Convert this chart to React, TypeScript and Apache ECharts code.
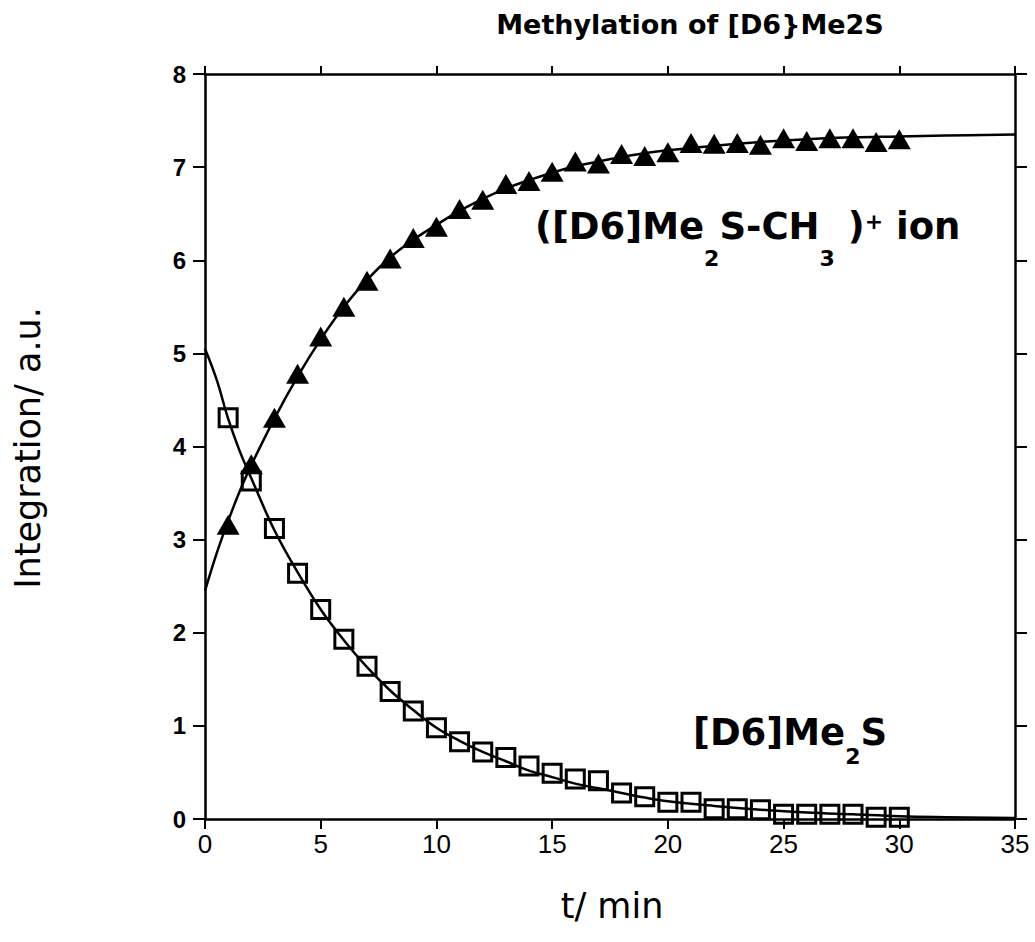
import React, { useEffect, useRef } from "react";
import * as echarts from "echarts";

// Measured points (t in min)
const times = [1, 2, 3, 4, 5, 6, 7, 8, 9, 10, 11, 12, 13, 14, 15, 16, 17, 18, 19, 20, 21, 22, 23, 24, 25, 26, 27, 28, 29, 30];
const ionValues = [3.16, 3.81, 4.31, 4.78, 5.18, 5.5, 5.78, 6.02, 6.24, 6.36, 6.55, 6.65, 6.82, 6.85, 6.95, 7.06, 7.04, 7.14, 7.12, 7.16, 7.26, 7.25, 7.26, 7.24, 7.31, 7.28, 7.31, 7.31, 7.27, 7.3];
const me2sValues = [4.31, 3.63, 3.12, 2.64, 2.25, 1.93, 1.64, 1.37, 1.16, 0.98, 0.83, 0.72, 0.66, 0.57, 0.49, 0.43, 0.41, 0.28, 0.24, 0.18, 0.18, 0.11, 0.11, 0.1, 0.05, 0.05, 0.05, 0.05, 0.02, 0.02];

// Fitted curves
const fitTimes = [0, 0.5, 1, 1.5, 2, 3, 4, 5, 6, 7, 8, 9, 10, 11, 12, 13, 14, 15, 16, 17, 18, 19, 20, 22, 24, 26, 28, 30, 32, 35];
const ionFit = [2.45, 2.85, 3.2, 3.52, 3.8, 4.3, 4.75, 5.15, 5.5, 5.79, 6.03, 6.22, 6.38, 6.53, 6.66, 6.77, 6.86, 6.94, 7.01, 7.06, 7.11, 7.15, 7.18, 7.23, 7.27, 7.3, 7.32, 7.33, 7.34, 7.35];
const me2sFit = [5.05, 4.72, 4.3, 3.95, 3.66, 3.1, 2.65, 2.25, 1.92, 1.63, 1.38, 1.17, 0.98, 0.84, 0.72, 0.62, 0.52, 0.45, 0.38, 0.33, 0.28, 0.23, 0.19, 0.14, 0.1, 0.07, 0.05, 0.03, 0.02, 0.01];

const titleText = "Methylation of [D6}Me2S";
const yName = "Integration/ a.u.";
const xName = "t/ min";

const BOLD_FONT = "DejaVu Sans";
const AX = "#000";

export default function App() {
  const ref = useRef<HTMLDivElement>(null);
  useEffect(() => {
    if (!ref.current) return;
    const chart = echarts.init(ref.current, undefined, { renderer: "svg" });
    const pair = (xs: number[], ys: number[]) => xs.map((x, i) => [x, ys[i]]);
    const axisCommon = {
      min: 0,
      splitLine: { show: false },
      axisLine: { show: true, onZero: false, lineStyle: { color: AX, width: 2.5 } },
      axisTick: { show: true, lineStyle: { color: AX, width: 2 } },
    };
    const mainStyle = { fontSize: 37, fontWeight: "bold", fontFamily: BOLD_FONT, lineHeight: 40, verticalAlign: "top", fill: "#000", color: "#000" };
    const subStyle = (pad: number) => ({ fontSize: 22, fontWeight: "bold", fontFamily: BOLD_FONT, lineHeight: 22, verticalAlign: "top", padding: [pad, 0, 0, 0], fill: "#000", color: "#000" });
    chart.setOption({
      animation: false,
      backgroundColor: "#fff",
      grid: { left: 205, right: 20, top: 74, bottom: 123, containLabel: false },
      xAxis: [
        {
          ...axisCommon,
          type: "value",
          position: "bottom",
          max: 35,
          interval: 5,
          axisTick: { show: true, length: 10, lineStyle: { color: AX, width: 2 } },
          axisLabel: { show: true, margin: 12, color: "#000", fontSize: 26, fontFamily: "Liberation Sans" },
        },
        {
          ...axisCommon,
          type: "value",
          position: "top",
          max: 35,
          interval: 5,
          axisTick: { show: true, length: 8, lineStyle: { color: AX, width: 2 } },
          axisLabel: { show: false },
        },
      ],
      yAxis: [
        {
          ...axisCommon,
          type: "value",
          position: "left",
          max: 8,
          interval: 1,
          axisTick: { show: true, length: 12, lineStyle: { color: AX, width: 2 } },
          axisLabel: { show: true, margin: 19, color: "#000", fontSize: 24, fontWeight: "bold", fontFamily: "Liberation Sans" },
        },
        {
          ...axisCommon,
          type: "value",
          position: "right",
          max: 8,
          interval: 1,
          axisTick: { show: true, length: 12, lineStyle: { color: AX, width: 2 } },
          axisLabel: { show: false },
        },
      ],
      series: [
        {
          type: "line",
          data: pair(fitTimes, me2sFit),
          smooth: 0.4,
          showSymbol: false,
          lineStyle: { color: "#000", width: 2.5 },
          z: 2,
        },
        {
          type: "line",
          data: pair(fitTimes, ionFit),
          smooth: 0.4,
          showSymbol: false,
          lineStyle: { color: "#000", width: 2.5 },
          z: 2,
        },
        {
          type: "scatter",
          data: pair(times, me2sValues),
          symbol: "rect",
          symbolSize: 18,
          itemStyle: { color: "rgba(0,0,0,0)", borderColor: "#000", borderWidth: 3, opacity: 1 },
          z: 3,
        },
        {
          type: "scatter",
          data: pair(times, ionValues),
          symbol: "triangle",
          symbolSize: [23, 20],
          itemStyle: { color: "#000", opacity: 1 },
          z: 3,
        },
      ],
      graphic: [
        {
          type: "text",
          x: 690,
          y: 24,
          style: { text: titleText, fontSize: 27, fontWeight: "bold", fontFamily: BOLD_FONT, fill: "#000", align: "center", verticalAlign: "middle" },
        },
        {
          type: "text",
          x: 28,
          y: 448,
          rotation: Math.PI / 2,
          style: { text: yName, fontSize: 35, fontFamily: "DejaVu Sans", fill: "#000", align: "center", verticalAlign: "middle" },
        },
        {
          type: "text",
          x: 612,
          y: 906,
          style: { text: xName, fontSize: 35, fontFamily: "DejaVu Sans", fill: "#000", align: "center", verticalAlign: "middle" },
        },
        {
          type: "text",
          x: 535,
          y: 208,
          style: {
            text: "{m|([D6]Me}{s|2}{m|S-CH}{s|3}{m| )}{p|+}{m| ion}",
            align: "left",
            verticalAlign: "top",
            rich: { m: mainStyle, s: subStyle(39), p: subStyle(2) },
          },
        },
        {
          type: "text",
          x: 693,
          y: 714,
          style: {
            text: "{m|[D6]Me}{s|2}{m|S}",
            align: "left",
            verticalAlign: "top",
            rich: { m: mainStyle, s: subStyle(31) },
          },
        },
      ],
    });
    return () => chart.dispose();
  }, []);
  return <div ref={ref} style={{ position: "fixed", left: 0, top: 0, width: 1035, height: 942, background: "#fff" }} />;
}
